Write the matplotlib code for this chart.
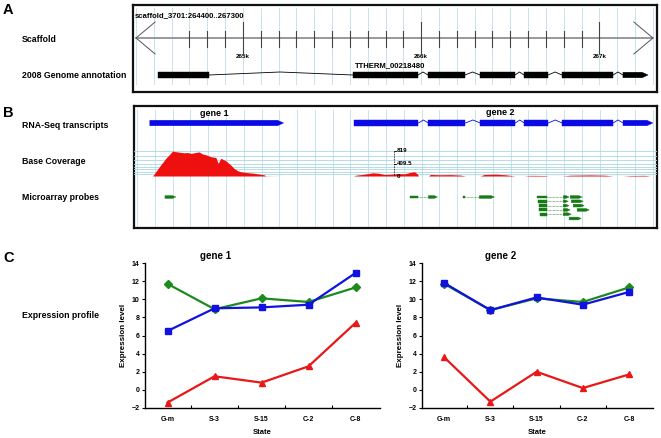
import matplotlib
matplotlib.use("Agg")
import matplotlib.pyplot as plt
from matplotlib.patches import Polygon

plt.rcParams['font.family'] = ['Liberation Sans', 'DejaVu Sans']
plt.rcParams['font.weight'] = 'bold'

# ---------------- data ----------------
region = (264400, 267300)
scaffold_name = "scaffold_3701:264400..267300"
annot_exons = [(264523, 264809), (265617, 265982), (266038, 266246), (266330, 266526),
               (266577, 266712), (266790, 267076), (267132, 267273)]
annot_name = "TTHERM_00218480"
gene1_exons = [(264472, 265224)]
gene2_exons = [(265617, 265982), (266038, 266246), (266330, 266526),
               (266577, 266712), (266790, 267076), (267132, 267300)]

cov_pos = [264488, 264520, 264562, 264585, 264600, 264612, 264628, 264645, 264665, 264685,
           264703, 264725, 264749, 264768, 264790, 264815, 264843, 264856, 264871, 264885,
           264899, 264927, 264945, 264965, 264983, 265020, 265058, 265090, 265114, 265123, 265208,
           265617, 265634, 265668, 265701, 265724, 265758, 265791, 265836, 265870, 265903, 265937,
           265960, 265977, 265982,
           266038, 266049, 266105, 266161, 266217, 266246,
           266330, 266352, 266414, 266470, 266526,
           266577, 266610, 266695, 266712,
           266790, 266835, 266947, 267031, 267076,
           267132, 267172, 267256, 267284]
cov_val = [0, 260, 580, 720, 819, 800, 790, 775, 760, 770,
           740, 765, 790, 720, 690, 630, 610, 415, 580, 540,
           500, 360, 250, 175, 140, 110, 90, 60, 40, 5, 0,
           0, 30, 50, 80, 105, 90, 50, 60, 80, 70, 120,
           140, 60, 0,
           0, 50, 40, 45, 30, 0,
           0, 50, 60, 40, 0,
           0, 20, 15, 0,
           0, 25, 35, 25, 0,
           0, 15, 20, 0]
cov_max = 819

# microarray probes: (row, [(start, end), ...]) ; last block of each probe has an arrow
probe_rows = [0, 0, 0, 0, 0, 1, 1, 2, 2, 3, 3, 4, 5]
probe_blocks = [
    [(264557, 264618)],
    [(265937, 265982), (266038, 266089)],
    [(266235, 266246), (266324, 266409)],
    [(266650, 266706), (266796, 266829)],
    [(266835, 266902)],
    [(266655, 266706), (266796, 266824)],
    [(266841, 266908)],
    [(266661, 266706), (266796, 266829)],
    [(266852, 266914)],
    [(266661, 266706), (266796, 266835)],
    [(266874, 266942)],
    [(266667, 266706), (266796, 266841)],
    [(266829, 266897)],
]

states = ["G-m", "S-3", "S-15", "C-2", "C-8"]
gene1_green = [11.7, 8.9, 10.1, 9.7, 11.3]
gene1_blue = [6.5, 9.0, 9.1, 9.4, 12.9]
gene1_red = [-1.4, 1.5, 0.8, 2.6, 7.4]
gene2_green = [11.7, 8.8, 10.1, 9.7, 11.3]
gene2_blue = [11.8, 8.8, 10.2, 9.4, 10.8]
gene2_red = [3.6, -1.3, 2.0, 0.2, 1.7]
yticks = [-2, 0, 2, 4, 6, 8, 10, 12, 14]

# ---------------- layout ----------------
W, H = 661, 438
fig = plt.figure(figsize=(W / 100, H / 100), dpi=100)


def rect(l, t, r, b):
    return [l / W, 1 - b / H, (r - l) / W, (b - t) / H]


def ftext(x, y, s, **kw):
    fig.text(x / W, 1 - y / H, s, **kw)


XL = (264383, 267323)
GRID_C = '#c4e4ec'
LAB = dict(fontsize=6.3, fontweight='bold', va='center', ha='left')

ftext(3, 10, "A", fontsize=10.5, fontweight='bold', va='center')
ftext(3, 113, "B", fontsize=10.5, fontweight='bold', va='center')
ftext(3, 258, "C", fontsize=10.5, fontweight='bold', va='center')
ftext(22, 39, "Scaffold", **LAB)
ftext(22, 75, "2008 Genome annotation", **LAB)
ftext(22, 125, "RNA-Seq transcripts", **LAB)
ftext(22, 161, "Base Coverage", **LAB)
ftext(22, 198, "Microarray probes", **LAB)
ftext(22, 315, "Expression profile", **LAB)


def exon(ax, s, e, y, h, color, arrow=False, al=34):
    if arrow:
        pts = [(s, y - h / 2), (e - al, y - h / 2), (e, y), (e - al, y + h / 2), (s, y + h / 2)]
    else:
        pts = [(s, y - h / 2), (e, y - h / 2), (e, y + h / 2), (s, y + h / 2)]
    ax.add_patch(Polygon(pts, closed=True, facecolor=color, edgecolor=color, lw=0.3, zorder=3))


def gene(ax, exons, y, h, color, first_intron_peak=None):
    for i, (s, e) in enumerate(exons):
        exon(ax, s, e, y, h, color, arrow=(i == len(exons) - 1))
        if i > 0:
            ps = exons[i - 1][1]
            if i == 1 and first_intron_peak is not None:
                mid, dy = first_intron_peak, 3
            else:
                mid, dy = (ps + s) / 2, 3
            ax.plot([ps, mid, s], [y, y - dy, y], color=color, lw=0.6, zorder=2)


def frame(ax):
    for sp in ax.spines.values():
        sp.set_linewidth(1.6)
        sp.set_color('#111111')
    ax.set_xticks([])
    ax.set_yticks([])
    ax.set_xlim(*XL)


# ---------------- panel A ----------------
axA = fig.add_axes(rect(133, 5, 657, 92))
frame(axA)
axA.set_ylim(92, 5)
for bp in range(region[0], region[1] + 1, 100):
    axA.plot([bp, bp], [8, 84], color=GRID_C, lw=0.7, zorder=0)
axA.plot(region, [38, 38], color='#888888', lw=1.2, zorder=1)
cw = 107
axA.plot([region[0] + cw, region[0], region[0] + cw], [22, 38, 54], color='#555555', lw=0.7)
axA.plot([region[1] - cw, region[1], region[1] - cw], [22, 38, 54], color='#555555', lw=0.7)
for bp in range(264700, 267001, 100):
    if bp % 1000 == 0:
        axA.plot([bp, bp], [22, 53], color='#444444', lw=0.8)
        axA.text(bp, 57, f"{bp // 1000}k", fontsize=4.5, ha='center', va='center')
    else:
        axA.plot([bp, bp], [31, 47], color='#444444', lw=0.8)
axA.text(region[0] - 5, 16, scaffold_name, fontsize=5.6, ha='left', va='center')
gene(axA, annot_exons, 75, 5.5, 'black', first_intron_peak=265208)
axA.text(annot_exons[1][0] + 10, 66, annot_name, fontsize=5.6, ha='left', va='center')

# ---------------- panel B ----------------
axB = fig.add_axes(rect(134, 106, 657, 228))
frame(axB)
axB.set_ylim(228, 106)
for bp in range(region[0], region[1] + 1, 100):
    axB.plot([bp, bp], [110, 226], color=GRID_C, lw=0.7, zorder=0)
gene(axB, gene1_exons, 123, 5.5, '#0a0ae6')
gene(axB, gene2_exons, 123, 5.5, '#0a0ae6')
axB.text(264832, 114, "gene 1", fontsize=6.5, ha='center', va='center')
axB.text(266442, 113, "gene 2", fontsize=6.5, ha='center', va='center')

# probes
pcol = '#177a17'
for row, blocks in zip(probe_rows, probe_blocks):
    y = 197 + row * 4.3
    for i, (s, e) in enumerate(blocks):
        exon(axB, s, e, y, 2.8, pcol, arrow=(i == len(blocks) - 1), al=18)
        if i > 0:
            axB.plot([blocks[i - 1][1], s], [y, y], color=pcol, lw=0.5, ls=(0, (1, 1)))

# coverage track
axC = fig.add_axes(rect(134, 151, 657, 176))
axC.patch.set_alpha(0)
for sp in axC.spines.values():
    sp.set_visible(False)
axC.set_xticks([])
axC.set_yticks([])
axC.set_xlim(*XL)
axC.set_ylim(0, cov_max)
for f in [0, 0.08, 0.17, 0.27, 0.38, 0.5, 0.64, 0.82, 1.0]:
    axC.axhline(f * cov_max, color='#a9d8e4', lw=0.6, zorder=0)
axC.fill_between(cov_pos, cov_val, 0, color='#ee0f0f', lw=0, zorder=2)
axC.plot([264488, 265208], [0, 0], color='#c04848', lw=0.8, zorder=3)
axC.plot([265617, 267290], [0, 0], color='#c04848', lw=0.8, zorder=3)
sbx = 265847
axC.plot([sbx, sbx], [0, cov_max], color='black', lw=0.6, ls=(0, (1, 1)), zorder=4)
for v, s in [(cov_max, "819"), (cov_max / 2, "409.5"), (0, "0")]:
    axC.plot([sbx, sbx + 8], [v, v], color='black', lw=0.6, zorder=4)
    axC.text(sbx + 14, v, s, fontsize=4.5, ha='left', va='center', zorder=5)


# ---------------- panel C ----------------
def expr(rct, title, tx, g, b, r):
    ax = fig.add_axes(rect(*rct))
    x = list(range(len(states)))
    ax.plot(x, g, color='#1d8a1d', lw=1.6, marker='D', ms=3.8, zorder=3)
    ax.plot(x, r, color='#e81818', lw=1.6, marker='^', ms=4.3, zorder=3)
    ax.plot(x, b, color='#1212e0', lw=1.6, marker='s', ms=4.0, zorder=4)
    ax.set_xlim(-0.48, 4.52)
    ax.set_ylim(-2, 14)
    ax.set_yticks(yticks)
    ax.set_xticks(x)
    ax.set_xticklabels(states)
    ax.set_xticks([0.5, 1.5, 2.5, 3.5], minor=True)
    ax.tick_params(axis='x', which='major', length=0, labelsize=5, pad=6)
    ax.tick_params(axis='x', which='minor', length=2, direction='in', width=0.8)
    ax.tick_params(axis='y', length=2, width=0.8, labelsize=5, pad=2)
    for sp in ['top', 'right']:
        ax.spines[sp].set_visible(False)
    for sp in ['left', 'bottom']:
        ax.spines[sp].set_linewidth(1.0)
    ax.set_title(title, fontsize=7, fontweight='bold', pad=3, x=tx)
    ax.set_xlabel("State", fontsize=5.5, fontweight='bold', labelpad=4)
    ax.set_ylabel("Expression level", fontsize=5.8, fontweight='bold', labelpad=3)
    return ax


expr((145, 263, 380, 408), "gene 1", 0.30, gene1_green, gene1_blue, gene1_red)
expr((422, 263, 653, 408), "gene 2", 0.34, gene2_green, gene2_blue, gene2_red)

fig.savefig("out.png", dpi=100)
